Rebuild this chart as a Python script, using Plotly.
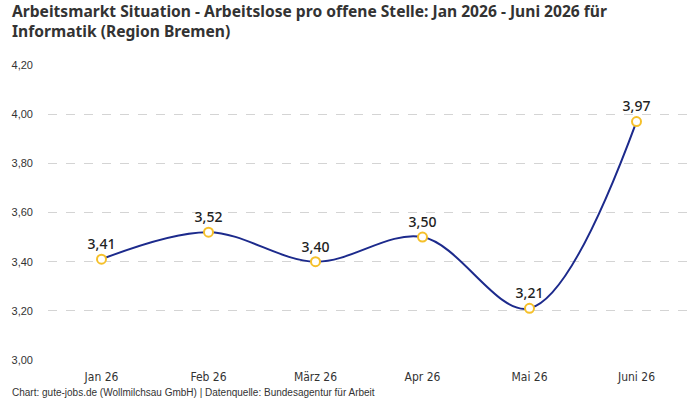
import plotly.graph_objects as go

months = ["Jan 26", "Feb 26", "März 26", "Apr 26", "Mai 26", "Juni 26"]
values = [3.41, 3.52, 3.40, 3.50, 3.21, 3.97]
labels = ["3,41", "3,52", "3,40", "3,50", "3,21", "3,97"]
y_ticks = [3.0, 3.2, 3.4, 3.6, 3.8, 4.0, 4.2]
y_tick_text = ["3,00", "3,20", "3,40", "3,60", "3,80", "4,00", "4,20"]

fig = go.Figure()
fig.add_trace(go.Scatter(
    x=months, y=values, mode="lines+markers+text",
    text=labels, textposition="top center",
    textfont=dict(family="Noto Sans, Open Sans, sans-serif", size=14, color="#222222", weight=500),
    line=dict(color="#1c2a8c", width=2, shape="spline", smoothing=1),
    marker=dict(size=9, color="white", line=dict(color="#f5c02a", width=2)),
    cliponaxis=False, hoverinfo="skip",
))

plot_h = 400 - 65 - 40
fig.update_layout(
    width=700, height=400,
    margin=dict(l=48, r=10, t=65, b=40),
    paper_bgcolor="white", plot_bgcolor="white",
    showlegend=False,
    annotations=[
        dict(
            text="<b>Arbeitsmarkt Situation - Arbeitslose pro offene Stelle: Jan 2026 - Juni 2026 für<br>Informatik (Region Bremen)</b>",
            xref="paper", yref="paper", x=-38 / 642, y=1 + 66.5 / plot_h,
            xanchor="left", yanchor="top", align="left", showarrow=False,
            font=dict(family="Noto Sans, Open Sans, sans-serif", size=15.6, color="#333333"),
        ),
        dict(
            text="Chart: gute-jobs.de (Wollmilchsau GmbH) | Datenquelle: Bundesagentur für Arbeit",
            xref="paper", yref="paper", x=-38 / 642, y=-0.085, xanchor="left", yanchor="top",
            showarrow=False, font=dict(family="Liberation Sans, Arial, sans-serif", size=10, color="#333333"),
        ),
    ],
)
fig.update_xaxes(
    type="category", range=[-0.5, 5.5], showgrid=False, zeroline=False, showline=False,
    ticks="", ticklabelstandoff=8,
    tickfont=dict(family="Liberation Sans Narrow, DejaVu Sans Condensed, sans-serif", size=12, color="#333333"),
)
fig.update_yaxes(
    range=[3.0, 4.2], tickvals=y_ticks, ticktext=y_tick_text,
    showgrid=True, gridcolor="#d4d4d4", griddash="dash", gridwidth=1,
    zeroline=False, showline=False, ticks="", ticklabelstandoff=14,
    tickfont=dict(family="Liberation Sans, Arial, sans-serif", size=11, color="#333333"),
)

fig.write_html("out.html")
